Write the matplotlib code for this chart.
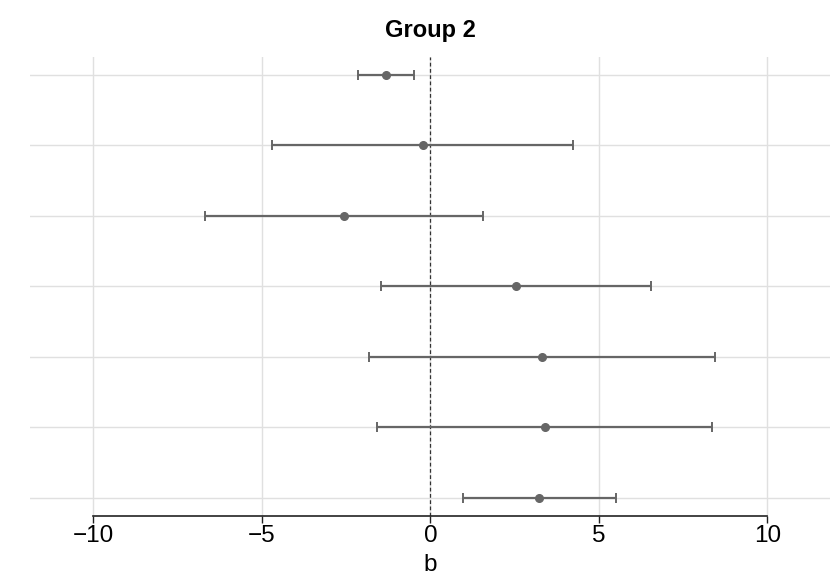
import matplotlib
matplotlib.use('Agg')
import matplotlib.pyplot as plt

plt.rcParams['font.family'] = ['Liberation Sans', 'DejaVu Sans']

# rows from top to bottom
est = [-1.31, -0.23, -2.55, 2.54, 3.32, 3.39, 3.23]
lo = [-2.14, -4.69, -6.70, -1.47, -1.81, -1.58, 0.97]
hi = [-0.47, 4.23, 1.57, 6.54, 8.45, 8.36, 5.51]
xticks = [-10, -5, 0, 5, 10]

n = len(est)
ypos = [n - i for i in range(n)]
xerr = [[e - l for e, l in zip(est, lo)], [h - e for e, h in zip(est, hi)]]

fig = plt.figure(figsize=(8.3, 5.88), dpi=100)
ax = fig.add_axes([30 / 830, (588 - 515.5) / 588, 800 / 830, (515.5 - 57) / 588])

ax.errorbar(est, ypos, xerr=xerr, fmt='o', color='#666666', ecolor='#666666',
            markersize=5.5, elinewidth=1.6, capsize=3.5, capthick=1.4, zorder=3)
ax.axvline(0, color='#333333', linewidth=0.9, linestyle=(0, (3, 2)), zorder=2)

ax.set_xlim(-11.88, 11.86)
ax.set_ylim(0.75, 7.25)
ax.set_yticks(ypos)
ax.set_yticklabels([])
ax.tick_params(axis='y', length=0)
ax.set_xticks(xticks)
ax.set_xticklabels(['\u221210', '\u22125', '0', '5', '10'], fontsize=17.5)
ax.tick_params(axis='x', length=5, width=1, color='#222222', pad=2)
ax.grid(True, color='#e0e0e0', linewidth=1, zorder=0)
ax.set_axisbelow(True)

for s in ['top', 'right', 'left']:
    ax.spines[s].set_visible(False)
ax.spines['bottom'].set_bounds(-10, 10)
ax.spines['bottom'].set_color('#222222')
ax.spines['bottom'].set_linewidth(1.2)

ax.set_xlabel('b', fontsize=17.5, labelpad=5)
fig.text(0.518, 1 - 31 / 588, 'Group 2', ha='center', va='center',
         fontsize=17, fontweight='bold')

fig.savefig('out.png', dpi=100)
